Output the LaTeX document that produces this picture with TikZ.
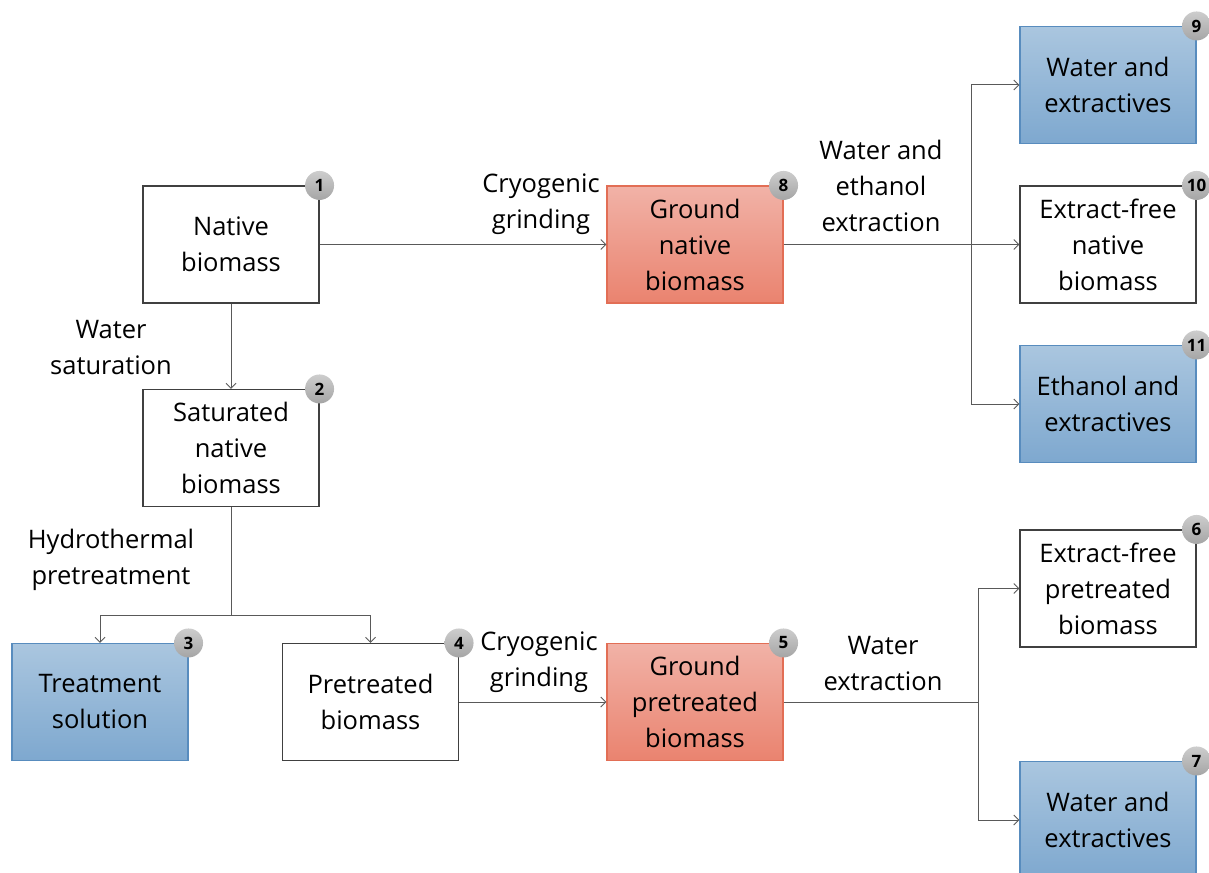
\documentclass[tikz,border=0pt]{standalone}
\usepackage{fontspec}
\setmainfont{Open Sans}
\usetikzlibrary{arrows.meta}
\definecolor{bluetop}{RGB}{170,198,223}
\definecolor{bluebot}{RGB}{126,168,207}
\definecolor{blueedge}{RGB}{88,140,190}
\definecolor{redtop}{RGB}{241,178,167}
\definecolor{redbot}{RGB}{234,131,111}
\definecolor{rededge}{RGB}{226,110,85}
\definecolor{badgetop}{RGB}{205,205,205}
\definecolor{badgebot}{RGB}{165,165,165}
\tikzset{
 box/.style={draw=black!75, line width=1.1pt, fill=white, minimum width=176pt, minimum height=117pt, align=center, inner sep=0pt, font=\fontsize{25.5}{36}\selectfont},
 bluebox/.style={box, draw=blueedge, top color=bluetop, bottom color=bluebot},
 redbox/.style={box, draw=rededge, top color=redtop, bottom color=redbot},
 badge/.style={circle, minimum size=29pt, inner sep=0pt, top color=badgetop, bottom color=badgebot, font=\fontsize{17}{17}\selectfont\bfseries},
 lbl/.style={align=center, font=\fontsize{25.5}{36}\selectfont},
 conn/.style={draw=black!65, line width=1pt},
 arr/.style={conn, -{Straight Barb[length=5pt,width=10pt]}},
}
\begin{document}
\begin{tikzpicture}[x=1pt,y=-1pt]
\useasboundingbox (0,0) rectangle (1209,872);
% boxes
\node[box] (n1) at (231,244.5) {Native\\biomass};
\node[box] (n2) at (231,448) {Saturated\\native\\biomass};
\node[bluebox] (n3) at (100,702) {Treatment\\solution};
\node[box] (n4) at (370.5,702) {Pretreated\\biomass};
\node[redbox] (n5) at (695,702) {Ground\\pretreated\\biomass};
\node[box] (n6) at (1108,588.5) {Extract-free\\pretreated\\biomass};
\node[bluebox] (n7) at (1108,820) {Water and\\extractives};
\node[redbox] (n8) at (695,244.5) {Ground\\native\\biomass};
\node[bluebox] (n9) at (1108,85) {Water and\\extractives};
\node[box] (n10) at (1108,244.5) {Extract-free\\native\\biomass};
\node[bluebox] (n11) at (1108,404) {Ethanol and\\extractives};
% badges
\node[badge] (b1) at (n1.north east) {1};
\node[badge] (b2) at (n2.north east) {2};
\node[badge] (b3) at (n3.north east) {3};
\node[badge] (b4) at (n4.north east) {4};
\node[badge] (b5) at (n5.north east) {5};
\node[badge] (b6) at (n6.north east) {6};
\node[badge] (b7) at (n7.north east) {7};
\node[badge] (b8) at (n8.north east) {8};
\node[badge] (b9) at (n9.north east) {9};
\node[badge] (b10) at (n10.north east) {10};
\node[badge] (b11) at (n11.north east) {11};
% labels
\node[lbl] (l1) at (541,204) {Cryogenic\\grinding};
\node[lbl] (l2) at (111,348) {Water\\saturation};
\node[lbl] (l3) at (111,560) {Hydrothermal\\pretreatment};
\node[lbl] (l4) at (539,662) {Cryogenic\\grinding};
\node[lbl] (l5) at (883,664) {Water\\extraction};
\node[lbl] (l6) at (881,186) {Water and\\ethanol\\extraction};
% connectors
\draw[arr] (n1.east) -- (n8.west);
\draw[arr] (n1.south) -- (n2.north);
\coordinate (s) at (231,615);
\draw[conn] (n2.south) -- (s);
\draw[arr] (s) -| (n3.north);
\draw[arr] (s) -| (n4.north);
\draw[arr] (n4.east) -- (n5.west);
\coordinate (t1) at (971,244.5);
\draw[conn] (n8.east) -- (t1);
\draw[arr] (t1) |- (n9.west);
\draw[arr] (t1) -- (n10.west);
\draw[arr] (t1) |- (n11.west);
\coordinate (t2) at (978,702);
\draw[conn] (n5.east) -- (t2);
\draw[arr] (t2) |- (n6.west);
\draw[arr] (t2) |- (n7.west);
\end{tikzpicture}
\end{document}
